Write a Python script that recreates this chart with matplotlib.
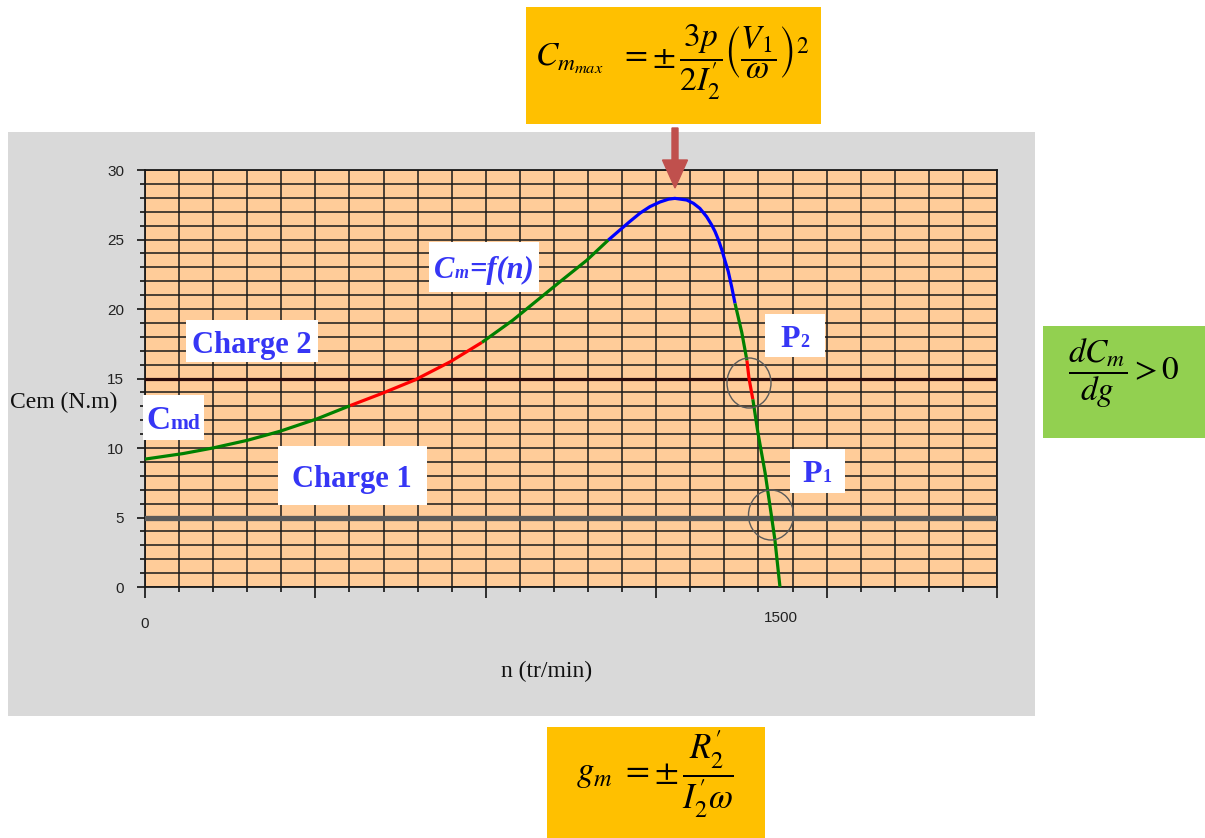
import numpy as np
import matplotlib.pyplot as plt
from matplotlib.patches import Rectangle, Ellipse, FancyArrow
from matplotlib.ticker import MultipleLocator, NullFormatter
from matplotlib.transforms import Affine2D, blended_transform_factory

n_vert_a = [0, 90, 160, 241, 318, 406, 484]
c_vert_a = [9.2, 9.6, 10.0, 10.55, 11.2, 12.1, 13.05]
n_rouge_a = [484, 561, 637, 720, 795]
c_rouge_a = [13.05, 13.95, 14.9, 16.2, 17.6]
n_vert_b = [795, 868, 979, 1042, 1093]
c_vert_b = [17.6, 19.2, 21.96, 23.5, 24.96]
n_bleu = [1093, 1121, 1144, 1168, 1191, 1215, 1235, 1250, 1278, 1294, 1309, 1325,
          1337, 1345, 1353, 1361, 1368, 1376, 1384, 1392]
c_bleu = [24.96, 25.7, 26.3, 26.9, 27.36, 27.7, 27.9, 27.96, 27.84, 27.6, 27.24, 26.64,
          26.04, 25.56, 24.96, 24.24, 23.5, 22.7, 21.6, 20.4]
n_vert_c = [1392, 1408, 1420]
c_vert_c = [20.4, 18.3, 16.3]
n_rouge_b = [1420, 1425, 1434]
c_rouge_b = [16.3, 15.0, 13.5]
n_vert_d = [1434, 1446, 1463, 1477, 1486, 1498]
c_vert_d = [13.5, 11.1, 8.2, 5.3, 3.4, 0.0]

charge_2 = 15.0
charge_1 = 5.0
x_labels = [0, 1500]
y_ticks = [0, 5, 10, 15, 20, 25, 30]

W, H = 1205, 838
n_max = 2010

fig = plt.figure(figsize=(W / 100, H / 100), dpi=100)
fig.patch.set_facecolor('white')
pix = Affine2D().scale(1 / 100, -1 / 100).translate(0, H / 100) + fig.dpi_scale_trans

# fond gris
fig.add_artist(Rectangle((8, 132), 1027, 584, transform=pix, facecolor='#D9D9D9',
                         edgecolor='none', zorder=-5))

ax = fig.add_axes([145 / W, 1 - 587 / H, (997 - 145) / W, (587 - 170) / H])
ax.set_facecolor('#FFCC99')
ax.set_xlim(0, n_max)
ax.set_ylim(0, 30)
ax.xaxis.set_major_locator(MultipleLocator(n_max / 5))
ax.xaxis.set_minor_locator(MultipleLocator(n_max / 25))
ax.yaxis.set_major_locator(MultipleLocator(5))
ax.yaxis.set_minor_locator(MultipleLocator(1))
ax.set_yticks(y_ticks)
ax.xaxis.set_major_formatter(NullFormatter())
ax.grid(which='both', color='#1a1a1a', lw=1.1)
ax.set_axisbelow(True)
for s in ax.spines.values():
    s.set_color('#1a1a1a')
    s.set_linewidth(1.3)
ax.tick_params(axis='y', which='major', length=6, width=1.1, pad=9, labelsize=11)
ax.tick_params(axis='y', which='minor', length=3.6, width=1.1)
ax.tick_params(axis='x', which='major', length=8, width=1.1)
ax.tick_params(axis='x', which='minor', length=3.6, width=1.1)
for lab in ax.get_yticklabels():
    lab.set_family('Liberation Sans')
    lab.set_color('#222222')

tr_x = blended_transform_factory(ax.transData, pix)
for v, yy in zip(x_labels, [624, 618]):
    ax.text(v, yy, str(v), transform=tr_x, ha='center', va='center', fontsize=11,
            family='Liberation Sans', color='#222222', clip_on=False)

# droites de charge
ax.axhline(charge_2, color='#2a0a0a', lw=2.3, zorder=3)
ax.axhline(charge_1, color='#5a5a5a', lw=3.8, zorder=3)

segments = [(n_vert_a, c_vert_a, '#008000'), (n_rouge_a, c_rouge_a, '#FF0000'),
            (n_vert_b, c_vert_b, '#008000'), (n_bleu, c_bleu, '#0000FF'),
            (n_vert_c, c_vert_c, '#008000'), (n_rouge_b, c_rouge_b, '#FF0000'),
            (n_vert_d, c_vert_d, '#008000')]
for nn, cc, col in segments:
    ax.plot(nn, cc, color=col, lw=2.3, zorder=4, solid_capstyle='butt')

# cercles autour de P1 et P2
fig.add_artist(Ellipse((749, 383), 44, 50, transform=pix, fill=False, ec='#5a5a5a', lw=1, zorder=5))
fig.add_artist(Ellipse((771, 515), 45, 50, transform=pix, fill=False, ec='#5a5a5a', lw=1, zorder=5))

# fleche vers Cm max
fig.add_artist(FancyArrow(675, 128, 0, 60, width=6, head_width=25, head_length=28,
                          length_includes_head=True, transform=pix, color='#C0504D', zorder=6))

renderer = fig.canvas.get_renderer()
bleu = '#3636F5'


def boite(x0, y0, x1, y1, col='white'):
    fig.add_artist(Rectangle((x0, y0), x1 - x0, y1 - y0, transform=pix, facecolor=col,
                             edgecolor='none', zorder=6))


def morceaux(cx, base, parts, family='Liberation Serif'):
    textes = []
    larg = []
    for s, size, style in parts:
        t = fig.text(0, 0, s, fontsize=size, fontweight='bold', fontstyle=style, family=family,
                     color=bleu, ha='left', va='baseline', transform=pix, zorder=7)
        textes.append(t)
        larg.append(t.get_window_extent(renderer).width)
    x = cx - sum(larg) / 2
    for t, w in zip(textes, larg):
        t.set_position((x, base))
        x += w


boite(186, 320, 318, 362)
morceaux(252, 353, [('Charge 2', 22, 'normal')])
boite(278, 446, 427, 505)
morceaux(352, 487, [('Charge 1', 22, 'normal')])
boite(143, 395, 204, 440)
morceaux(173, 429, [('C', 24, 'normal'), ('md', 15.5, 'normal')])
boite(429, 242, 539, 292)
morceaux(484, 278, [('C', 22, 'italic'), ('m', 13, 'italic'), ('=f(n)', 22, 'italic')])
boite(765, 314, 825, 357)
morceaux(795, 347, [('P', 23, 'normal'), ('2', 13, 'normal')])
boite(790, 449, 845, 493)
morceaux(817, 482, [('P', 23, 'normal'), ('1', 13, 'normal')])

fig.text(10, 408, 'Cem (N.m)', transform=pix, fontsize=17, family='Liberation Serif',
         ha='left', va='baseline', color='#111111')
fig.text(547, 677, 'n (tr/min)', transform=pix, fontsize=17, family='Liberation Serif',
         ha='center', va='baseline', color='#111111')

# formules
plt.rcParams['mathtext.fontset'] = 'stix'
boite(526, 7, 821, 124, '#FFC000')
fig.text(672, 62, r'$C_{m_{max}}\ \ =\pm\,\dfrac{3p}{2I_2^{\prime}}\left(\dfrac{V_1}{\omega}\right)^2$',
         transform=pix, fontsize=24, ha='center', va='center', zorder=7)
boite(1043, 326, 1205, 438, '#92D050')
fig.text(1124, 373, r'$\dfrac{dC_m}{dg} > 0$', transform=pix, fontsize=24,
         ha='center', va='center', zorder=7)
boite(547, 727, 765, 838, '#FFC000')
fig.text(655, 774, r'$g_m\ =\pm\,\dfrac{R_2^{\prime}}{I_2^{\prime}\omega}$', transform=pix,
         fontsize=25, ha='center', va='center', zorder=7)

fig.savefig('out.png', dpi=100)
